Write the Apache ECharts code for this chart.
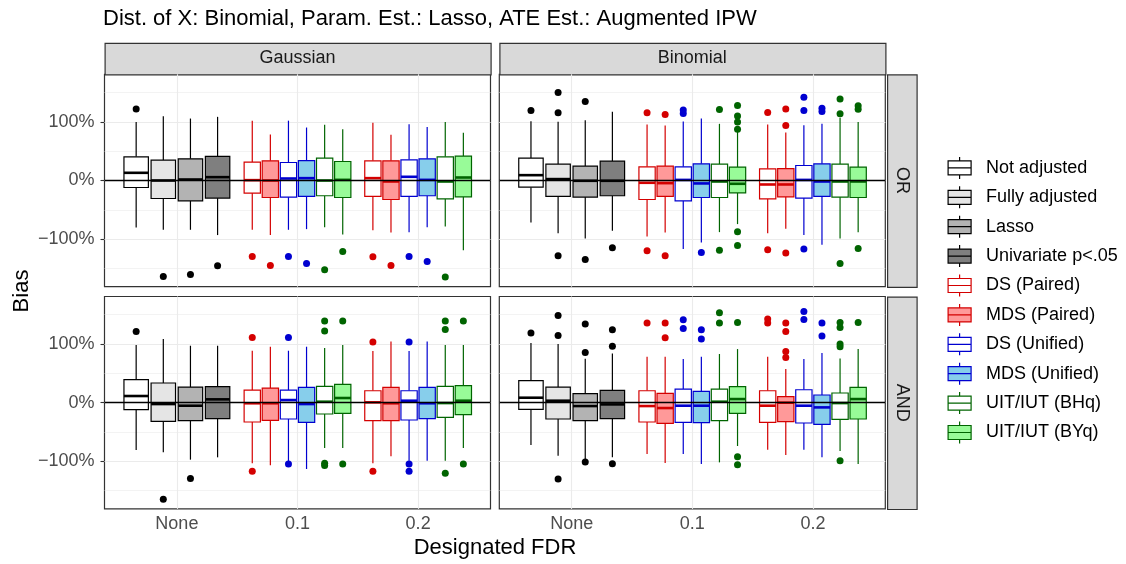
<!DOCTYPE html>
<html>
<head>
<meta charset="utf-8">
<script src="https://cdn.jsdelivr.net/npm/echarts@6/dist/echarts.min.js"></script>
<style>
  html, body { margin: 0; padding: 0; background: #fff; }
  #chart { width: 1126px; height: 564px; }
</style>
</head>
<body>
<div id="chart"></div>
<script>
// categories on x and the two method groups
const categories = ['None', '0.1', '0.2'];
const baseMethods = ['Not adjusted', 'Fully adjusted', 'Lasso', 'Univariate p<.05'];
const fdrMethods = ['DS (Paired)', 'MDS (Paired)', 'DS (Unified)', 'MDS (Unified)', 'UIT/IUT (BHq)', 'UIT/IUT (BYq)'];
const colNames = ['Gaussian', 'Binomial'];
const rowNames = ['OR', 'AND'];
const yMajor = [-100, 0, 100];
const yMinor = [-150, -50, 50, 150];

// box stats: [lower whisker, q1, median, q3, upper whisker]  (bias in %)
const gaussOrNone = [[-80, -11.9, 13.1, 40.4, 99.5], [-84, -30.7, 0, 34.7, 109.7], [-84, -34.6, 1.7, 37, 105.6], [-93, -30, 5.7, 41, 108.5]];
const gaussOr01 = [[-84, -21.5, 0.6, 31.3, 102], [-93, -29, 0, 33.6, 78.4], [-84, -28.3, 3.4, 30.7, 102], [-82.9, -27.2, 4, 34, 90.3], [-79.5, -26, 0, 38.1, 94.9], [-92, -29, 1.1, 32.4, 87.5]];
const gaussOr02 = [[-85, -27.2, 4, 33.6, 98.3], [-88.5, -32.4, -1.7, 33.6, 77.9], [-88, -27.2, 6.3, 35.3, 96], [-79.5, -26, 1.1, 37, 91], [-78.4, -31.2, -1.7, 40.4, 99.5], [-119, -27.8, 5.1, 41.5, 81.3]];
const binomOrNone = [[-71.5, -11.3, 9.1, 38, 101], [-89.7, -27.2, 2.4, 27.9, 100], [-98.8, -28.3, -0.5, 24.5, 102.8], [-85.7, -26, -0.5, 33, 117]];
const binomOr01 = [[-95.4, -32.4, -3.9, 23.3, 95.4], [-88.5, -27.2, -4.5, 24.5, 93.7], [-116.9, -34.6, 1, 23.3, 100.5], [-105.6, -29, -5, 28.4, 105.6], [-88, -29, -1.7, 27.9, 96.6], [-74.3, -21, -5.6, 22.8, 83.5]];
const binomOr02 = [[-89.7, -31.2, -6.8, 19.9, 95.4], [-82.3, -27.8, -6.8, 20.4, 81.8], [-93, -30, 1, 25.6, 94.3], [-109.5, -27.2, -1.7, 28.4, 96.6], [-98.8, -28.3, -1.7, 27.9, 106.8], [-88, -29, -1.7, 22.8, 99.5]];
const gaussAndNone = [[-80.6, -11.9, 11.4, 39.2, 98.3], [-84.6, -31.8, -2.3, 33.6, 108.5], [-97.1, -30.7, -5.1, 26.7, 97.1], [-93.1, -27.3, 5.7, 27.3, 97.1]];
const gaussAnd01 = [[-103.4, -32.9, -1, 21.6, 88.6], [-106.8, -30.1, -1, 25, 95.4], [-100, -27.8, 4.5, 21.6, 88.6], [-113, -33.5, -2.3, 26, 95.4], [-77.2, -19.3, 1.7, 27.8, 93.1], [-77.2, -18.2, 8, 31.2, 98.3]];
const gaussAnd02 = [[-103.4, -30.7, 0.6, 20.4, 88], [-91.4, -30.7, -1, 26, 104.5], [-98.8, -29.5, 3.4, 20.4, 88], [-98.8, -27.3, -1, 26, 104.5], [-98.8, -25, -0.6, 27.8, 98.3], [-77.2, -20.4, 3.4, 29, 98.3]];
const binomAndNone = [[-72.1, -11.4, 8.5, 37.5, 101.7], [-90.3, -27.8, 3.4, 26.7, 100], [-97, -30.7, -5.7, 15.3, 75], [-93.1, -27.3, -2.9, 21, 84]];
const binomAnd01 = [[-87.4, -32.9, -5.7, 20.4, 78.4], [-102.8, -35.2, -9.1, 15.9, 78.4], [-87.4, -33.5, -5.1, 23.3, 74.4], [-104.5, -34, -5.1, 19.3, 78.4], [-101.7, -30.7, 1.7, 23.3, 83], [-73.8, -18.2, 6.2, 27.3, 91.4]];
const binomAnd02 = [[-80, -33.5, -5.1, 20.4, 78.4], [-89.1, -32.4, 0, 10.2, 57.4], [-80, -34.6, -5.1, 22.1, 74.4], [-93.1, -37, -8, 13.1, 84.6], [-82.3, -28.4, -0.6, 16.5, 75.5], [-104.5, -27.8, 6.2, 26, 91.4]];

// outliers per box
const gaussOrNoneOut = [[122], [-163.5], [-160], [-145.3]];
const gaussOr01Out = [[-129.5], [-144.8], [-129.5], [-141.4], [-152], [-121]];
const gaussOr02Out = [[-130], [-144.8], [-129.5], [-138], [-164.6], []];
const binomOrNoneOut = [[119.3], [150, 115.3, -128.3], [134.6, -134.6], [-114.7]];
const binomOr01Out = [[115.3, -119.8], [112.4, -128.3], [120, 114], [-122.6], [121, -119], [127.8, 110, 99.5, 87.5, -87.4, -110.7]];
const binomOr02Out = [[115.9, -118.1], [122, 93.7, -123.7], [142, 119.3, -116.9], [123.3, 117.5], [138.7, 113.6, -141.4], [127.3, 121.6, -115.8]];
const gaussAndNoneOut = [[121.5], [-164.7], [-129], []];
const gaussAnd01Out = [[111.3, -117], [], [111.3, -104.5], [], [139.2, 122.1, -103.4, -107], [139.2, -104.5]];
const gaussAnd02Out = [[103.4, -117], [], [103.4, -104.5, -117], [], [139.2, 124.9, -120.4], [139.2, -104.5]];
const binomAndNoneOut = [[118.7], [148.7, 114.7, -130], [134, 85.7, -101], [124.4, 96, -104]];
const binomAnd01Out = [[135.8], [135.8, 110.7], [141.4, 126.6], [124.4, 108.5], [153.3, 135.8], [136.8, -92, -105.6]];
const binomAnd02Out = [[142.6, 135.8], [135.8, 121.5, 87.4, 77.2], [155.6, 142], [135.8, 113.6], [136.8, 128.3, 100, 95.4, -98.8], [136.8]];

const methodStyle = {
  'Not adjusted':     { stroke: '#000000', fill: '#FFFFFF' },
  'Fully adjusted':   { stroke: '#000000', fill: '#E5E5E5' },
  'Lasso':            { stroke: '#000000', fill: '#B3B3B3' },
  'Univariate p<.05': { stroke: '#000000', fill: '#7F7F7F' },
  'DS (Paired)':      { stroke: '#D40000', fill: '#FFFFFF' },
  'MDS (Paired)':     { stroke: '#D40000', fill: '#FF9999' },
  'DS (Unified)':     { stroke: '#0000D0', fill: '#FFFFFF' },
  'MDS (Unified)':    { stroke: '#0000D0', fill: '#87CEEB' },
  'UIT/IUT (BHq)':    { stroke: '#006400', fill: '#FFFFFF' },
  'UIT/IUT (BYq)':    { stroke: '#006400', fill: '#98FB98' }
};

const font = "'Liberation Sans', Arial, sans-serif";
const panelW = 386, panelH = 212.4;
const panelLeft = [104.5, 499.3];
const panelTop = [74.3, 296.5];

const panels = [
  { row: 0, col: 0, stats: [gaussOrNone, gaussOr01, gaussOr02], outs: [gaussOrNoneOut, gaussOr01Out, gaussOr02Out] },
  { row: 0, col: 1, stats: [binomOrNone, binomOr01, binomOr02], outs: [binomOrNoneOut, binomOr01Out, binomOr02Out] },
  { row: 1, col: 0, stats: [gaussAndNone, gaussAnd01, gaussAnd02], outs: [gaussAndNoneOut, gaussAnd01Out, gaussAnd02Out] },
  { row: 1, col: 1, stats: [binomAndNone, binomAnd01, binomAnd02], outs: [binomAndNoneOut, binomAnd01Out, binomAnd02Out] }
];

function drawBox(params, api, bw, st) {
  const x = api.value(0);
  const lw = api.coord([x, api.value(1)]);
  const q1 = api.coord([x, api.value(2)]);
  const md = api.coord([x, api.value(3)]);
  const q3 = api.coord([x, api.value(4)]);
  const uw = api.coord([x, api.value(5)]);
  const half = (api.coord([x + bw / 2, 0])[0] - api.coord([x - bw / 2, 0])[0]) / 2;
  const cx = q1[0];
  const ln = { stroke: st.stroke, lineWidth: 1.2 };
  return {
    type: 'group',
    children: [
      { type: 'line', shape: { x1: cx, y1: uw[1], x2: cx, y2: q3[1] }, style: ln },
      { type: 'line', shape: { x1: cx, y1: q1[1], x2: cx, y2: lw[1] }, style: ln },
      { type: 'rect', shape: { x: cx - half, y: q3[1], width: half * 2, height: q1[1] - q3[1] },
        style: { fill: st.fill, stroke: st.stroke, lineWidth: 1.2 } },
      { type: 'line', shape: { x1: cx - half, y1: md[1], x2: cx + half, y2: md[1] },
        style: { stroke: st.stroke, lineWidth: 2.6 } }
    ]
  };
}

const grids = [], xAxes = [], yAxes = [], series = [];

panels.forEach((p, k) => {
  const bottom = p.row === 1, left = p.col === 0;
  grids.push({ left: panelLeft[p.col], top: panelTop[p.row], width: panelW, height: panelH,
    show: true, borderColor: '#333333', borderWidth: 1.2, backgroundColor: '#FFFFFF' });
  xAxes.push({
    type: 'value', gridIndex: k, min: 0.4, max: 3.6,
    splitLine: { show: false }, axisLine: { show: false },
    axisTick: { show: bottom, customValues: [1, 2, 3], length: 4, lineStyle: { color: '#333333', width: 1.1 } },
    axisLabel: { show: bottom, customValues: [1, 2, 3], margin: 6, color: '#4D4D4D', fontSize: 18, fontFamily: font,
      formatter: v => categories[Math.round(v) - 1] }
  });
  yAxes.push({
    type: 'value', gridIndex: k, min: -181, max: 181,
    splitLine: { show: false }, axisLine: { show: false },
    axisTick: { show: left, customValues: yMajor, length: 4, lineStyle: { color: '#333333', width: 1.1 } },
    axisLabel: { show: left, customValues: yMajor, margin: 10, color: '#4D4D4D', fontSize: 18, fontFamily: font,
      formatter: v => (v < 0 ? '\u2212' + (-v) : v) + '%' }
  });

  // grid lines, kept under the boxes
  const gl = [];
  yMinor.forEach(v => gl.push({ yAxis: v, lineStyle: { color: '#EBEBEB', width: 0.6, type: 'solid' } }));
  yMajor.forEach(v => gl.push({ yAxis: v, lineStyle: { color: '#EBEBEB', width: 1.1, type: 'solid' } }));
  [1, 2, 3].forEach(v => gl.push({ xAxis: v, lineStyle: { color: '#EBEBEB', width: 1.1, type: 'solid' } }));
  series.push({ type: 'line', xAxisIndex: k, yAxisIndex: k, data: [], silent: true, z: 1,
    markLine: { z: 1, silent: true, symbol: ['none', 'none'], label: { show: false }, animation: false, data: gl } });

  // boxes and outliers
  categories.forEach((c, ci) => {
    const methods = ci === 0 ? baseMethods : fdrMethods;
    const n = methods.length, slot = 0.9 / n, bw = slot * 0.9;
    methods.forEach((m, i) => {
      const x = (ci + 1) - 0.45 + slot * (i + 0.5);
      const st = methodStyle[m];
      series.push({
        type: 'custom', name: m, xAxisIndex: k, yAxisIndex: k, z: 3,
        itemStyle: { color: st.fill, borderColor: st.stroke },
        renderItem: (params, api) => drawBox(params, api, bw, st),
        encode: { x: 0, y: [1, 2, 3, 4, 5] },
        data: [[x].concat(p.stats[ci][i])]
      });
      const o = p.outs[ci][i];
      if (o.length) {
        series.push({
          type: 'scatter', name: m, xAxisIndex: k, yAxisIndex: k, z: 4,
          symbolSize: 7, itemStyle: { color: st.stroke, opacity: 1 },
          data: o.map(v => [x, v])
        });
      }
    });
  });

  // reference line at zero, on top of the boxes
  series.push({ type: 'line', xAxisIndex: k, yAxisIndex: k, data: [], silent: true, z: 10,
    markLine: { z: 10, silent: true, symbol: ['none', 'none'], label: { show: false }, animation: false,
      data: [{ yAxis: 0, lineStyle: { color: '#000000', width: 1.4, type: 'solid' } }] } });
});

// strips
const graphics = [];
colNames.forEach((name, c) => {
  graphics.push({ type: 'rect', left: panelLeft[c], top: 42.7, shape: { width: panelW, height: 31.6 },
    style: { fill: '#D9D9D9', stroke: '#333333', lineWidth: 1.2 } });
  graphics.push({ type: 'text', x: panelLeft[c] + panelW / 2, y: 58.5,
    style: { text: name, fill: '#1A1A1A', font: '18px ' + font, align: 'center', verticalAlign: 'middle' } });
});
rowNames.forEach((name, r) => {
  graphics.push({ type: 'rect', left: 887, top: panelTop[r], shape: { width: 29.5, height: panelH },
    style: { fill: '#D9D9D9', stroke: '#333333', lineWidth: 1.2 } });
  graphics.push({ type: 'text', x: 902, y: panelTop[r] + panelH / 2, rotation: -Math.PI / 2,
    style: { text: name, fill: '#1A1A1A', font: '18px ' + font, align: 'center', verticalAlign: 'middle' } });
});
// axis titles
graphics.push({ type: 'text', x: 22, y: 291, rotation: Math.PI / 2,
  style: { text: 'Bias', fill: '#000000', font: '22px ' + font, align: 'center', verticalAlign: 'middle' } });
graphics.push({ type: 'text', x: 495, y: 548,
  style: { text: 'Designated FDR', fill: '#000000', font: '22px ' + font, align: 'center', verticalAlign: 'middle' } });

const keyPath = 'path://M11.5,0L11.5,4M0,4L23,4L23,18L0,18ZM0,11L23,11M11.5,18L11.5,22';
const allMethods = baseMethods.concat(fdrMethods);

const option = {
  animation: false,
  backgroundColor: '#FFFFFF',
  title: {
    text: 'Dist. of X: Binomial, Param. Est.: Lasso, ATE Est.: Augmented IPW',
    left: 103, top: 8, padding: 0,
    textStyle: { fontSize: 22, fontWeight: 'normal', color: '#000000', fontFamily: font }
  },
  legend: {
    orient: 'vertical', left: 947.5, top: 156.3, padding: 0,
    itemWidth: 23, itemHeight: 22, itemGap: 6.2,
    data: allMethods.map(m => ({
      name: m, icon: keyPath,
      itemStyle: { color: methodStyle[m].fill, borderColor: methodStyle[m].stroke, borderWidth: 1.2 }
    })),
    textStyle: { fontSize: 18, lineHeight: 20, color: '#000000', fontFamily: font, padding: [0, 0, 0, 10] }
  },
  grid: grids,
  xAxis: xAxes,
  yAxis: yAxes,
  graphic: graphics,
  series: series
};

const chart = echarts.init(document.getElementById('chart'), null, { renderer: 'canvas' });
chart.setOption(option);
</script>
</body>
</html>
